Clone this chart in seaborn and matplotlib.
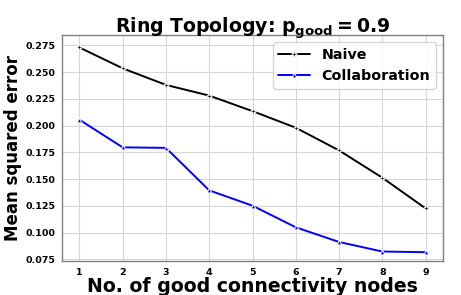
import pandas as pd
import matplotlib
matplotlib.use('Agg')
import matplotlib.pyplot as plt
import seaborn as sns

# valeurs
nodes = [1, 2, 3, 4, 5, 6, 7, 8, 9]
naive = [0.273, 0.2535, 0.238, 0.228, 0.2135, 0.198, 0.1768, 0.1513, 0.1226]
collab = [0.2055, 0.1797, 0.1792, 0.1395, 0.1252, 0.105, 0.0913, 0.0824, 0.0818]

df = pd.DataFrame({'nodes': nodes, 'Naive': naive, 'Collaboration': collab})

sns.set_style('whitegrid')
plt.rcParams['font.family'] = ['DejaVu Sans']
plt.rcParams['font.weight'] = 'bold'
plt.rcParams['mathtext.default'] = 'bf'
plt.rcParams['text.color'] = 'black'
plt.rcParams['axes.labelcolor'] = 'black'
plt.rcParams['xtick.color'] = 'black'
plt.rcParams['ytick.color'] = 'black'

fig, ax = plt.subplots(figsize=(4.61, 2.95), dpi=100)

sns.lineplot(data=df, x='nodes', y='Naive', color='black', marker='P',
             markersize=3.5, linewidth=1.4, label='Naive', ax=ax)
sns.lineplot(data=df, x='nodes', y='Collaboration', color='blue', marker='^',
             markersize=3.5, linewidth=1.4, label='Collaboration', ax=ax)

ax.set_xticks(nodes)
ax.tick_params(axis='both', labelsize=6.8, length=3, color='gray', width=0.8, pad=2)
for lab in ax.get_xticklabels() + ax.get_yticklabels():
    lab.set_fontweight('bold')
ax.set_xlim(0.6, 9.4)
ax.set_ylim(0.0735, 0.2845)

for s in ax.spines.values():
    s.set_color('gray')
    s.set_linewidth(1.0)
ax.grid(True, color='#d6d6d6', linewidth=0.8)

ax.set_title(r'Ring Topology: $\mathbf{p_{good} = 0.9}$', fontsize=13.6, fontweight='bold', pad=2)
ax.set_xlabel('No. of good connectivity nodes', fontsize=13.6, fontweight='bold', labelpad=0)
ax.set_ylabel('Mean squared error', fontsize=12, fontweight='bold', labelpad=2)
leg = ax.legend(loc='upper right', prop={'weight': 'bold', 'size': 10.3}, frameon=True,
                handlelength=2.2, borderaxespad=0.5)

plt.subplots_adjust(left=0.1345, right=0.961, top=0.881, bottom=0.115)
plt.savefig('out.png', dpi=100)
